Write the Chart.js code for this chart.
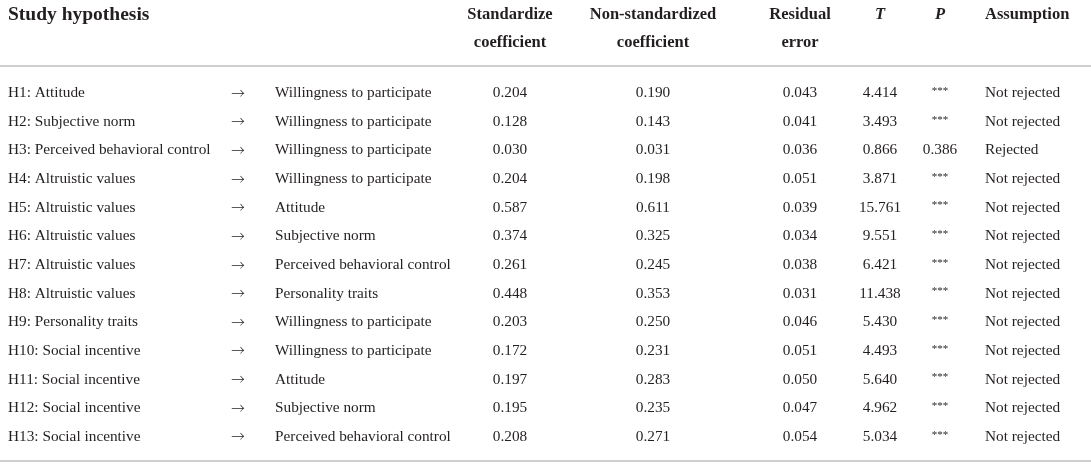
<!DOCTYPE html>
<html>
<head>
<meta charset="utf-8">
<script src="https://cdn.jsdelivr.net/npm/chart.js@4"></script>
<style>
  html, body { margin: 0; padding: 0; background: #fff; }
  #wrap { width: 1091px; height: 466px; }
</style>
</head>
<body>
<div id="wrap"><canvas id="tableCanvas"></canvas></div>
<script>
// table content
const hypotheses = [
    'H1: Attitude', 'H2: Subjective norm', 'H3: Perceived behavioral control',
    'H4: Altruistic values', 'H5: Altruistic values', 'H6: Altruistic values',
    'H7: Altruistic values', 'H8: Altruistic values', 'H9: Personality traits',
    'H10: Social incentive', 'H11: Social incentive', 'H12: Social incentive',
    'H13: Social incentive'
];
const targets = [
    'Willingness to participate', 'Willingness to participate', 'Willingness to participate',
    'Willingness to participate', 'Attitude', 'Subjective norm',
    'Perceived behavioral control', 'Personality traits', 'Willingness to participate',
    'Willingness to participate', 'Attitude', 'Subjective norm',
    'Perceived behavioral control'
];
const stdCoef = ['0.204', '0.128', '0.030', '0.204', '0.587', '0.374', '0.261', '0.448', '0.203', '0.172', '0.197', '0.195', '0.208'];
const nonStdCoef = ['0.190', '0.143', '0.031', '0.198', '0.611', '0.325', '0.245', '0.353', '0.250', '0.231', '0.283', '0.235', '0.271'];
const residual = ['0.043', '0.041', '0.036', '0.051', '0.039', '0.034', '0.038', '0.031', '0.046', '0.051', '0.050', '0.047', '0.054'];
const tValues = ['4.414', '3.493', '0.866', '3.871', '15.761', '9.551', '6.421', '11.438', '5.430', '4.493', '5.640', '4.962', '5.034'];
const pValues = ['***', '***', '0.386', '***', '***', '***', '***', '***', '***', '***', '***', '***', '***'];
const assumption = [
    'Not rejected', 'Not rejected', 'Rejected', 'Not rejected', 'Not rejected', 'Not rejected',
    'Not rejected', 'Not rejected', 'Not rejected', 'Not rejected', 'Not rejected', 'Not rejected',
    'Not rejected'
];

const bodyFont = '15.3px "Liberation Serif", serif';
const starFont = '11px "Liberation Serif", serif';
const arrowFont = '300 13.5px "Noto Sans CJK JP", sans-serif';

// column anchors on the x scale, and how the text sits there
const columns = [
    { data: hypotheses, x: 8, align: 'left' },
    { data: hypotheses.map(() => '\u2192'), x: 238, align: 'center', font: arrowFont, dy: -0.5 },
    { data: targets, x: 275, align: 'left' },
    { data: stdCoef, x: 510, align: 'center' },
    { data: nonStdCoef, x: 653, align: 'center' },
    { data: residual, x: 800, align: 'center' },
    { data: tValues, x: 880, align: 'center' },
    { data: pValues, x: 940, align: 'center' },
    { data: assumption, x: 985, align: 'left' }
];
const headers = [
    { lines: ['Study hypothesis'], x: 8, align: 'left', size: 19.5 },
    { lines: ['Standardize', 'coefficient'], x: 510, align: 'center' },
    { lines: ['Non-standardized', 'coefficient'], x: 653, align: 'center' },
    { lines: ['Residual', 'error'], x: 800, align: 'center' },
    { lines: ['T'], x: 880, align: 'center', italic: true },
    { lines: ['P'], x: 940, align: 'center', italic: true },
    { lines: ['Assumption'], x: 985, align: 'left' }
];

const textColor = '#231f20';
const ruleColor = '#cfcfcf';

const tablePlugin = {
    id: 'tableText',
    afterDraw(chart) {
        const ctx = chart.ctx;
        const xs = chart.scales.x;
        const ys = chart.scales.y;
        ctx.save();
        ctx.fillStyle = textColor;
        ctx.textBaseline = 'middle';

        // header
        headers.forEach(h => {
            ctx.font = (h.italic ? 'italic ' : '') + 'bold ' + (h.size || 16.5) + 'px "Liberation Serif", serif';
            ctx.textAlign = h.align;
            h.lines.forEach((line, i) => {
                ctx.fillText(line, xs.getPixelForValue(h.x), ys.getPixelForValue(-2.72 + i * 0.95));
            });
        });

        // rules
        ctx.strokeStyle = ruleColor;
        ctx.lineWidth = 2;
        [-0.94, 12.85].forEach(v => {
            const py = Math.round(ys.getPixelForValue(v));
            ctx.beginPath();
            ctx.moveTo(xs.getPixelForValue(0), py);
            ctx.lineTo(xs.getPixelForValue(1091), py);
            ctx.stroke();
        });

        // body cells
        columns.forEach(col => {
            ctx.textAlign = col.align;
            col.data.forEach((txt, r) => {
                const stars = txt === '***';
                ctx.font = stars ? starFont : (col.font || bodyFont);
                const dy = stars ? -2 : (col.dy || 0);
                ctx.fillText(txt, xs.getPixelForValue(col.x), ys.getPixelForValue(r) + dy);
            });
        });
        ctx.restore();
    }
};

let ctx = document.getElementById('tableCanvas').getContext('2d');
let chart = new Chart(ctx, {
    type: 'scatter',
    data: {
        datasets: [{
            label: 'rows',
            data: hypotheses.map((h, i) => ({ x: 8, y: i })),
            pointRadius: 0,
            showLine: false
        }]
    },
    options: {
        responsive: true,
        maintainAspectRatio: false,
        animation: false,
        layout: { padding: 0 },
        plugins: {
            legend: { display: false },
            tooltip: { enabled: false }
        },
        scales: {
            x: { type: 'linear', min: 0, max: 1091, display: false },
            y: { type: 'linear', min: -3.246, max: 13.019, reverse: true, display: false }
        }
    },
    plugins: [tablePlugin]
});
</script>
</body>
</html>
